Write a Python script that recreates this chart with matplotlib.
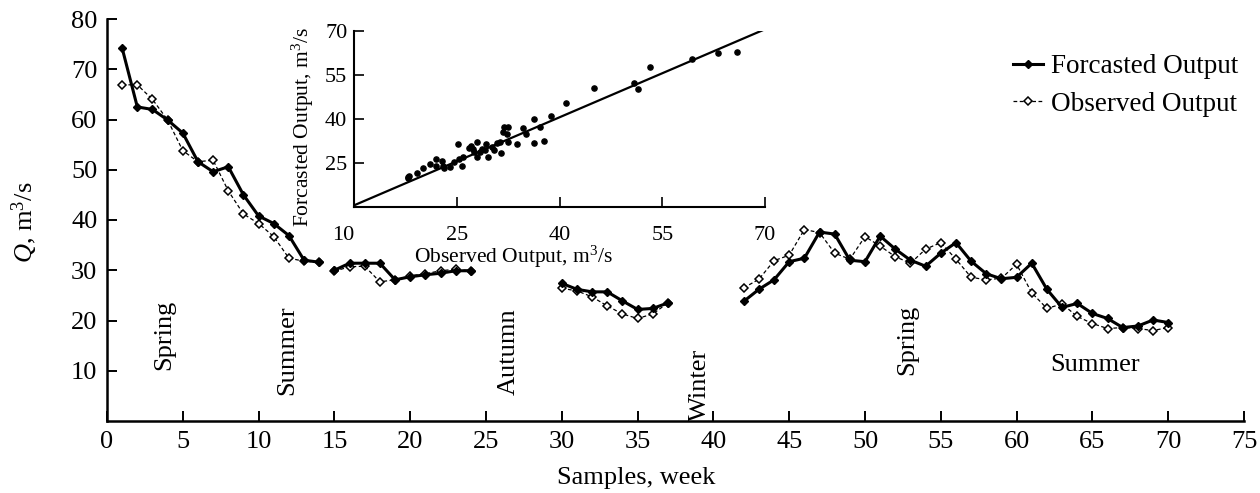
import numpy as np
import matplotlib
matplotlib.use("Agg")
import matplotlib.pyplot as plt
from matplotlib.lines import Line2D

plt.rcParams['font.family'] = ['Liberation Serif', 'DejaVu Serif']
plt.rcParams['mathtext.fontset'] = 'custom'
plt.rcParams['mathtext.rm'] = 'Liberation Serif'
plt.rcParams['mathtext.it'] = 'Liberation Serif:italic'

# ---------------- data ----------------
weeks = np.arange(1, 71)
nan = np.nan
forecasted = [74.2, 62.5, 62.0, 59.9, 57.3, 51.6, 49.6, 50.6, 45.0, 40.8,
              39.3, 36.9, 32.0, 31.6, 30.0, 31.4, 31.4, 31.4, 28.1, 28.7,
              29.1, 29.4, 29.9, 29.9, nan, nan, nan, nan, nan, 27.4,
              26.2, 25.7, 25.7, 23.9, 22.2, 22.4, 23.5, nan, nan, nan,
              nan, 23.8, 26.2, 28.1, 31.7, 32.4, 37.6, 37.2, 32.0, 31.7,
              36.8, 34.2, 32.0, 30.8, 33.4, 35.5, 31.8, 29.3, 28.3, 28.6,
              31.4, 26.2, 22.6, 23.4, 21.4, 20.4, 18.6, 18.9, 20.1, 19.6]
observed = [66.9, 66.9, 64.0, 59.9, 53.8, 51.6, 51.9, 45.8, 41.2, 39.3,
            36.7, 32.4, 31.8, 31.6, 29.8, 30.7, 30.8, 27.7, 28.1, 28.9,
            29.3, 29.9, 30.2, 29.9, nan, nan, nan, nan, nan, 26.4,
            25.9, 24.7, 22.9, 21.3, 20.4, 21.3, 23.5, nan, nan, nan,
            nan, 26.5, 28.2, 31.9, 33.0, 38.1, 37.5, 33.4, 32.2, 36.7,
            34.8, 32.7, 31.4, 34.2, 35.5, 32.2, 28.6, 28.1, 28.4, 31.2,
            25.5, 22.4, 23.3, 20.8, 19.4, 18.4, 18.6, 18.4, 18.0, 18.6]
segment_breaks = [14]   # no connecting line after these weeks

season_labels = ["Spring", "Summer", "Autumn", "Winter", "Spring", "Summer"]
season_x = [3.8, 11.9, 26.5, 39.1, 52.8, 65.2]
season_y = [17.1, 14.1, 13.7, 7.2, 16.1, 11.1]
season_rot = [90, 90, 90, 90, 90, 0]

x_ticks = list(range(0, 80, 5))
y_ticks = [10, 20, 30, 40, 50, 60, 70, 80]

# inset scatter: observed vs forecasted
sc_obs = [17.9, 18.0, 17.8, 19.1, 20.1, 21.1, 22.0, 21.9, 22.8, 22.9,
          23.1, 24.0, 24.5, 25.1, 25.8, 25.3, 25.9, 26.7, 27.1, 27.4,
          27.9, 27.5, 27.9, 28.4, 28.6, 29.1, 29.3, 29.6, 30.1, 30.4,
          30.8, 31.3, 31.4, 31.7, 31.9, 32.3, 32.5, 32.5, 33.8, 34.7,
          35.1, 36.2, 36.2, 37.1, 37.7, 38.8, 40.9, 45.0, 50.9, 51.4,
          53.2, 59.3, 63.1, 65.9]
sc_fc = [20.2, 20.6, 19.8, 21.6, 23.1, 24.4, 26.4, 24.0, 25.6, 23.9,
         23.1, 23.6, 25.1, 31.3, 24.0, 26.1, 27.0, 29.9, 30.8, 29.5,
         32.2, 28.8, 27.0, 28.8, 29.5, 29.3, 31.3, 27.0, 30.5, 29.3,
         31.8, 32.2, 28.4, 35.6, 37.3, 34.7, 37.3, 32.2, 31.4, 36.7,
         34.7, 39.8, 31.8, 37.3, 32.5, 40.9, 45.2, 50.3, 52.3, 50.0,
         57.5, 60.2, 62.5, 62.6]
fit_slope = 1.0
fit_intercept = 0.5
inset_ticks = [10, 25, 40, 55, 70]


def with_breaks(x, y, breaks):
    x = np.asarray(x, float)
    y = np.asarray(y, float)
    xs, ys = list(x), list(y)
    for b in sorted(breaks, reverse=True):
        i = int(np.where(x == b)[0][0]) + 1
        xs.insert(i, np.nan)
        ys.insert(i, np.nan)
    return np.array(xs), np.array(ys)


W, H = 1260, 493
fig = plt.figure(figsize=(W / 100, H / 100), dpi=100)
ax = fig.add_axes([107 / W, 1 - 421 / H, (1244 - 107) / W, (421 - 19) / H])

xf, yf = with_breaks(weeks, forecasted, segment_breaks)
xo, yo = with_breaks(weeks, observed, segment_breaks)
obs_style = dict(color='black', lw=0.9, ls=(0, (3, 2)), marker='D', ms=4.2,
                 mfc='white', mec='black', mew=1.1)
fc_style = dict(color='black', lw=2.2, marker='D', ms=3.8, mfc='black', mec='black')
ax.plot(xo, yo, zorder=3, **obs_style)
ax.plot(xf, yf, zorder=4, **fc_style)

ax.set_xlim(0, 75)
ax.set_ylim(0, 80)
ax.set_xticks(x_ticks)
ax.set_yticks(y_ticks)
for s in ['top', 'right']:
    ax.spines[s].set_visible(False)
for s in ['left', 'bottom']:
    ax.spines[s].set_linewidth(1.8)
ax.tick_params(direction='in', length=7, width=1.4, labelsize=19, pad=7)

ax.set_xlabel('Samples, week', fontsize=19)
ax.xaxis.set_label_coords((636 - 107) / 1137, -(478 - 421) / 402)
ax.xaxis.label.set_va('center')
ax.set_ylabel(r'$Q$, m$^3$/s', fontsize=19)
ax.yaxis.set_label_coords((25 - 107) / 1137, (421 - 222) / 402)
ax.yaxis.label.set_va('center')

for lab, sx, sy, rot in zip(season_labels, season_x, season_y, season_rot):
    ax.text(sx, sy, lab, rotation=rot, ha='center', va='center', fontsize=19)

handles = [Line2D([], [], **fc_style), Line2D([], [], **obs_style)]
fig.legend(handles, ['Forcasted Output', 'Observed Output'], loc='upper left',
           bbox_to_anchor=(1013 / W, 1 - 54 / H), frameon=False, fontsize=19.5,
           handlelength=1.1, handletextpad=0.3, labelspacing=0.47, borderpad=0,
           borderaxespad=0)

# ---------------- inset ----------------
ia = fig.add_axes([354.3 / W, 1 - 206.7 / H, (765 - 354.3) / W, (206.7 - 30.7) / H])
ia.scatter(sc_obs, sc_fc, s=14, color='black', zorder=3)
lx = np.array([inset_ticks[0], inset_ticks[-1]])
ia.plot(lx, fit_slope * lx + fit_intercept, color='black', lw=1.6)
ia.set_xlim(10, 70)
ia.set_ylim(10, 70)
ia.set_xticks(inset_ticks)
ia.set_yticks(inset_ticks)
ia.set_yticklabels([''] + [str(t) for t in inset_ticks[1:]])
for s in ['top', 'right']:
    ia.spines[s].set_visible(False)
for s in ['left', 'bottom']:
    ia.spines[s].set_linewidth(1.5)
ia.tick_params(direction='in', length=7, width=1.2, labelsize=16)
ia.tick_params(axis='x', pad=14)
ia.tick_params(axis='y', pad=5)
ia.get_xticklabels()[0].set_ha('right')
ia.set_xlabel(r'Observed Output, m$^3$/s', fontsize=15.5)
ia.xaxis.set_label_coords((513 - 354.3) / 410.7, (206.7 - 256.7) / 176)
ia.xaxis.label.set_va('center')
ia.set_ylabel(r'Forcasted Output, m$^3$/s', fontsize=15.5)
ia.yaxis.set_label_coords((303 - 354.3) / 410.7, (206.7 - 127) / 176)
ia.yaxis.label.set_va('center')

fig.savefig('out.png', dpi=100)
